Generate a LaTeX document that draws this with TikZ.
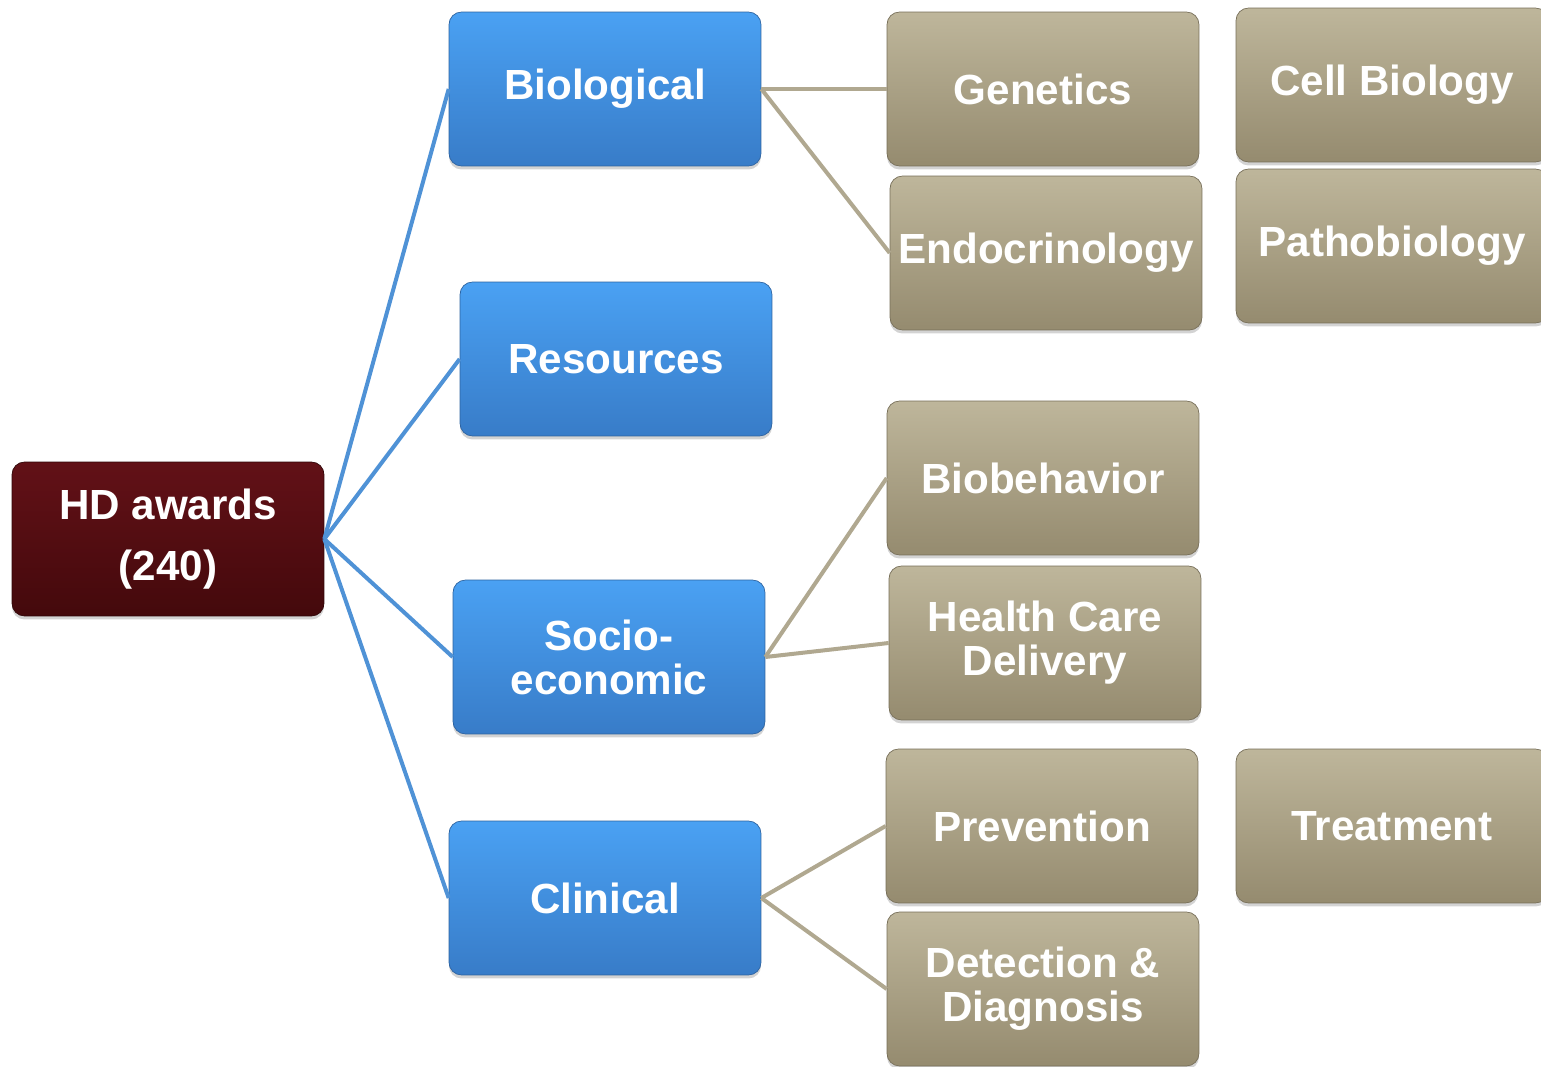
\documentclass[tikz,border=0pt]{standalone}
\usepackage{fontspec}
\setmainfont{Liberation Sans}
\usetikzlibrary{shadows}
\definecolor{bluetop}{RGB}{74,161,243}
\definecolor{bluebot}{RGB}{56,124,200}
\definecolor{tantop}{RGB}{190,182,155}
\definecolor{tanbot}{RGB}{149,139,111}
\definecolor{redtop}{RGB}{98,17,23}
\definecolor{redbot}{RGB}{68,9,12}
\definecolor{linkblue}{RGB}{79,146,214}
\definecolor{linktan}{RGB}{176,168,144}
\begin{document}
\begin{tikzpicture}[x=0.02cm,y=-0.02cm,
    box/.style={rounded corners=0.25cm, minimum width=6.24cm, minimum height=3.08cm,
        inner sep=1pt, align=center, text=white,
        font=\fontsize{24}{25}\selectfont\bfseries,
        drop shadow={shadow xshift=0pt, shadow yshift=-0.07cm, opacity=0.35}},
    root/.style={box, top color=redtop, bottom color=redbot, draw=redbot!70!black},
    topic/.style={box, top color=bluetop, bottom color=bluebot, draw=bluebot!80!black},
    area/.style={box, top color=tantop, bottom color=tanbot, draw=tanbot!80!black},
    blueline/.style={draw=linkblue, line width=0.08cm},
    tanline/.style={draw=linktan, line width=0.08cm}]
    \useasboundingbox (0,0) rectangle (1541,1067);
    \clip (0,0) rectangle (1541,1067);
    \node (hd) [root, font=\fontsize{24}{35}\selectfont\bfseries] at (168,539) {HD awards\\(240)};
    \node (bio) [topic] at (605,89) {Biological};
    \node (res) [topic] at (616,359) {Resources};
    \node (soc) [topic] at (609,657) {Socio-\\economic};
    \node (cli) [topic] at (605,898) {Clinical};
    \node (gen) [area] at (1043,89) {Genetics};
    \node (endo) [area] at (1046,253) {Endocrinology};
    \node (cell) [area] at (1392,85) {Cell Biology};
    \node (patho) [area] at (1392,246) {Pathobiology};
    \node (biob) [area] at (1043,478) {Biobehavior};
    \node (hcd) [area] at (1045,643) {Health Care\\Delivery};
    \node (prev) [area] at (1042,826) {Prevention};
    \node (treat) [area] at (1392,826) {Treatment};
    \node (det) [area] at (1043,989) {Detection \&\\Diagnosis};
    \path[blueline]
    (hd.east) edge (bio.west)
    (hd.east) edge (res.west)
    (hd.east) edge (soc.west)
    (hd.east) edge (cli.west);
    \path[tanline]
    (bio.east) edge (gen.west)
    (bio.east) edge (endo.west)
    (soc.east) edge (biob.west)
    (soc.east) edge (hcd.west)
    (cli.east) edge (prev.west)
    (cli.east) edge (det.west);
\end{tikzpicture}
\end{document}
